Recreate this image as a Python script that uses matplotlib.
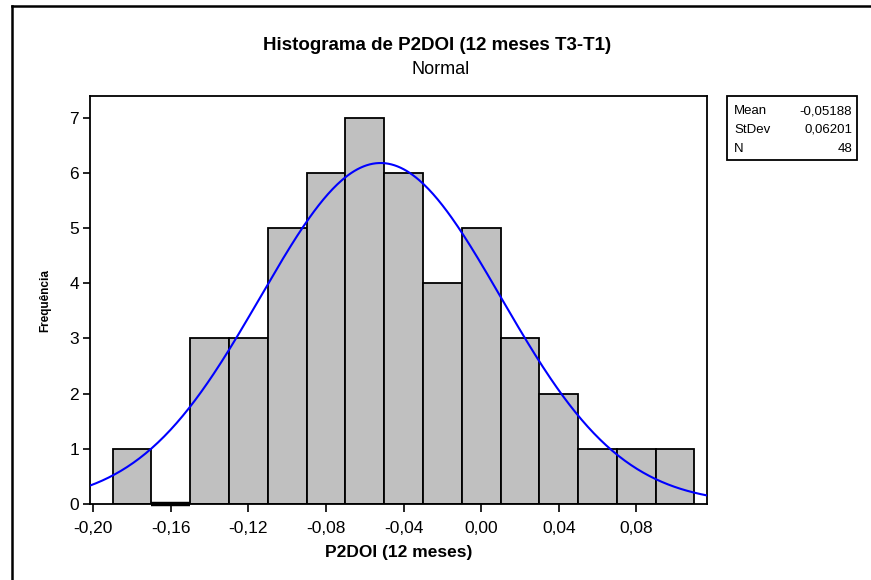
import numpy as np
import matplotlib
matplotlib.use("Agg")
import matplotlib.pyplot as plt
from matplotlib.patches import Rectangle
from matplotlib.lines import Line2D
from matplotlib.ticker import FuncFormatter

# ---- data ----
bin_edges_start = -0.19
bin_width = 0.02
counts = [1, 0, 3, 3, 5, 6, 7, 6, 4, 5, 3, 2, 1, 1, 1]
mean_val = -0.05188
stdev_val = 0.06201
n_val = 48
x_ticks = [-0.20, -0.16, -0.12, -0.08, -0.04, 0.00, 0.04, 0.08]
y_ticks = [0, 1, 2, 3, 4, 5, 6, 7]
title = "Histograma de P2DOI (12 meses T3-T1)"
subtitle = "Normal"
xlabel = "P2DOI (12 meses)"
ylabel = "Frequência"
stats_labels = ["Mean", "StDev", "N"]
stats_values = ["-0,05188", "0,06201", "48"]

plt.rcParams['font.family'] = ['Liberation Sans', 'DejaVu Sans']

W, H = 871, 580
fig = plt.figure(figsize=(W / 100, H / 100), dpi=100)

def fx(px):
    return px / W

def fy(py):
    return 1 - py / H

ax_l, ax_r, ax_t, ax_b = 90, 706.7, 96, 504
ax = fig.add_axes([fx(ax_l), fy(ax_b), fx(ax_r) - fx(ax_l), fy(ax_t) - fy(ax_b)])

lefts = [bin_edges_start + i * bin_width for i in range(len(counts))]
ax.bar(lefts, counts, width=bin_width, align='edge', color='#C0C0C0',
       edgecolor='black', linewidth=1.3, zorder=2)
# empty bins show as a thick line on the baseline
for lft, c in zip(lefts, counts):
    if c == 0:
        ax.plot([lft, lft + bin_width], [0, 0], color='black', linewidth=3.2,
                solid_capstyle='butt', zorder=4, clip_on=False)

xmin, xmax = -0.2017, 0.1163
xs = np.linspace(xmin, xmax, 400)
ys = n_val * bin_width / (stdev_val * np.sqrt(2 * np.pi)) * np.exp(-0.5 * ((xs - mean_val) / stdev_val) ** 2)
ax.plot(xs, ys, color='#0000FF', linewidth=1.5, zorder=3)

ax.set_xlim(xmin, xmax)
ax.set_ylim(0, 7.39)
ax.set_xticks(x_ticks)
ax.set_yticks(y_ticks)
ax.xaxis.set_major_formatter(FuncFormatter(lambda v, p: f"{v:.2f}".replace('.', ',').replace('-0,00', '0,00')))
ax.tick_params(axis='x', direction='out', length=6, width=1.2, labelsize=12.5, pad=6)
ax.tick_params(axis='y', direction='out', length=5, width=1.2, labelsize=12.5, pad=3)
for s in ax.spines.values():
    s.set_linewidth(1.3)

ax.set_xlabel(xlabel, fontsize=12.5, fontweight='bold', labelpad=7)

fig.text(fx(45), fy(300), ylabel, rotation=90, ha='center', va='center', fontsize=8.5, fontweight='bold')
fig.text(fx(437), fy(45), title, ha='center', va='center', fontsize=13.5, fontweight='bold')
fig.text(fx(441), fy(70), subtitle, ha='center', va='center', fontsize=13)

# stats box
bx_l, bx_r, bx_t, bx_b = 727, 857, 96, 160
fig.patches.append(Rectangle((fx(bx_l), fy(bx_b)), fx(bx_r) - fx(bx_l), fy(bx_t) - fy(bx_b),
                             transform=fig.transFigure, fill=False, edgecolor='black', linewidth=1.3))
row_y = [111, 130, 149]
for lab, val, yy in zip(stats_labels, stats_values, row_y):
    fig.text(fx(734), fy(yy), lab, ha='left', va='center', fontsize=9.5)
    fig.text(fx(852), fy(yy), val, ha='right', va='center', fontsize=9.5)

# outer frame (left and top)
fig.lines.append(Line2D([fx(12), fx(12)], [fy(6), 0], transform=fig.transFigure, color='black', linewidth=1.8))
fig.lines.append(Line2D([fx(12), 1], [fy(6), fy(6)], transform=fig.transFigure, color='black', linewidth=1.8))

fig.savefig("out.png", dpi=100)
